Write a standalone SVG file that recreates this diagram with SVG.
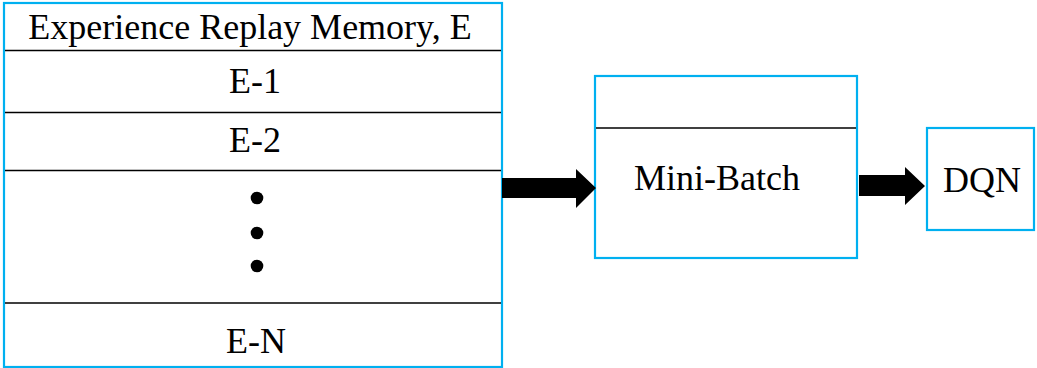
<svg xmlns="http://www.w3.org/2000/svg" width="1037" height="368" viewBox="0 0 1037 368">
<style>
.box{fill:#fff;stroke:#00B0F0;stroke-width:2.2}
.div{stroke:#000;stroke-width:1.5}
.t{font-family:"Liberation Serif","Times New Roman",serif;font-size:36px;fill:#000;text-anchor:middle}
.arr{fill:#000}
</style>
<rect width="1037" height="368" fill="#fff"/>
<g id="memory">
<rect class="box" x="4" y="3" width="498" height="364"/>
<line class="div" x1="5" y1="50.5" x2="501" y2="50.5"/>
<line class="div" x1="5" y1="112.5" x2="501" y2="112.5"/>
<line class="div" x1="5" y1="170.5" x2="501" y2="170.5"/>
<line class="div" x1="5" y1="303" x2="501" y2="303"/>
<text class="t" x="250" y="39">Experience Replay Memory, E</text>
<text class="t" x="255" y="93">E-1</text>
<text class="t" x="255" y="152">E-2</text>
<circle cx="257" cy="198" r="6.3"/>
<circle cx="257" cy="233" r="6.3"/>
<circle cx="257" cy="266" r="6.3"/>
<text class="t" x="256" y="353">E-N</text>
</g>
<g id="minibatch">
<rect class="box" x="595" y="76" width="262" height="182"/>
<line class="div" x1="596" y1="128" x2="856" y2="128"/>
<text class="t" x="717" y="190">Mini-Batch</text>
</g>
<g id="dqn">
<rect class="box" x="927" y="128" width="107" height="102"/>
<text class="t" x="982" y="192">DQN</text>
</g>
<g id="connectors">
<polygon class="arr" points="502,178 576,178 576,169 596,188 576,208 576,198 502,198"/>
<polygon class="arr" points="859,175 905,175 905,167 925,186 905,205 905,196 859,196"/>
</g>
</svg>
